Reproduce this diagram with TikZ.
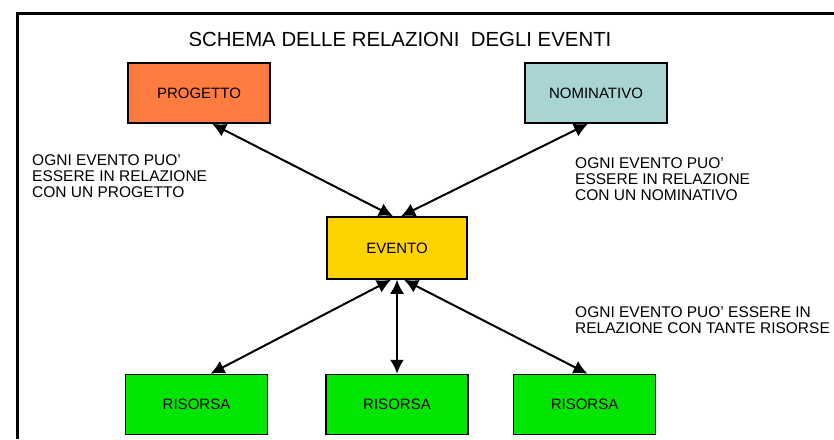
\documentclass[tikz,border=0pt]{standalone}
\usepackage{fontspec}
\setmainfont{Liberation Sans}
\usepackage{tikz}
\usetikzlibrary{positioning, arrows.meta, calc}
\definecolor{progettoorange}{RGB}{255,124,64}
\definecolor{nominativoteal}{RGB}{168,212,212}
\definecolor{eventoyellow}{RGB}{255,211,0}
\definecolor{risorsagreen}{RGB}{0,230,0}

\begin{document}
\begin{tikzpicture}[x=1pt, y=-1pt, node distance=57pt, >={Latex[length=14pt,width=14pt]}]
    \tikzstyle{entity} = [rectangle, draw, line width=1.5pt, minimum width=142pt, minimum height=60pt, inner sep=0pt, font=\fontsize{15}{16}\selectfont]
    \tikzstyle{note} = [align=left, inner sep=0pt, anchor=north west, font=\fontsize{15.5}{16}\selectfont]
    \tikzstyle{link} = [<->, line width=2pt]

    \useasboundingbox (0,0) rectangle (834,439);
    \draw[line width=3pt] (17,439) |- (834,13);

    \node[font=\fontsize{20.4}{22}\selectfont] (title) at (400,39) {SCHEMA DELLE RELAZIONI\ \ DEGLI EVENTI};

    \node[entity, fill=eventoyellow, minimum width=140pt, minimum height=62pt] (evento) at (397,248) {EVENTO};
    \node[entity, fill=progettoorange] (progetto) at (199,93) {PROGETTO};
    \node[entity, fill=nominativoteal] (nominativo) at (596,93) {NOMINATIVO};

    \node[entity, fill=risorsagreen, below=94pt of evento] (risorsa2) {RISORSA};
    \node[entity, fill=risorsagreen, left=of risorsa2] (risorsa1) {RISORSA};
    \node[entity, fill=risorsagreen, right=44pt of risorsa2] (risorsa3) {RISORSA};

    \draw[link] ([xshift=-4pt]evento.north) -- ([xshift=13pt]progetto.south);
    \draw[link] ([xshift=4pt]evento.north) -- ([xshift=-8pt]nominativo.south);
    \draw[link] ([xshift=-6pt]evento.south) -- ([xshift=14pt]risorsa1.north);
    \draw[link] (evento.south) -- (risorsa2.north);
    \draw[link] ([xshift=7pt]evento.south) -- ([xshift=3pt]risorsa3.north);

    \node[note] (notaprogetto) at (32,154) {OGNI EVENTO PUO'\\ESSERE IN RELAZIONE\\CON UN PROGETTO};
    \node[note] (notanominativo) at (575,157) {OGNI EVENTO PUO'\\ESSERE IN RELAZIONE\\CON UN NOMINATIVO};
    \node[note] (notarisorse) at (575,306) {OGNI EVENTO PUO' ESSERE IN\\RELAZIONE CON TANTE RISORSE};
\end{tikzpicture}
\end{document}
